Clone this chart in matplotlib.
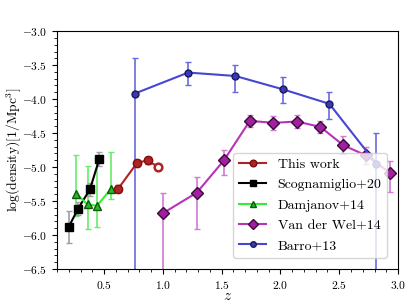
import matplotlib
matplotlib.use('Agg')
import matplotlib.pyplot as plt
from matplotlib.ticker import MultipleLocator

plt.rcParams['font.family'] = 'serif'
plt.rcParams['font.serif'] = ['cmr10', 'DejaVu Serif']
plt.rcParams['mathtext.fontset'] = 'cm'
plt.rcParams['axes.formatter.use_mathtext'] = True
plt.rcParams['font.size'] = 10

# This work
z_tw = [0.62, 0.78, 0.87, 0.96]
d_tw = [-5.32, -4.94, -4.90, -5.00]
e_tw = [0.05, 0.04, 0.05, 0.0]

# Scognamiglio+20
z_sc = [0.20, 0.28, 0.38, 0.46]
d_sc = [-5.88, -5.61, -5.33, -4.88]
e_sc = [0.24, 0.09, 0.10, 0.10]

# Damjanov+14
z_dj = [0.26, 0.36, 0.44, 0.56]
d_dj = [-5.39, -5.55, -5.57, -5.32]
eup_dj = [0.57, 0.56, 0.70, 0.54]
elo_dj = [0.33, 0.36, 0.31, 0.15]

# Van der Wel+14
z_vw = [1.0, 1.29, 1.52, 1.74, 1.94, 2.14, 2.34, 2.535, 2.73, 2.93]
d_vw = [-5.68, -5.375, -4.90, -4.32, -4.35, -4.33, -4.41, -4.68, -4.83, -5.085]
eup_vw = [0.30, 0.23, 0.15, 0.09, 0.10, 0.09, 0.09, 0.13, 0.12, 0.18]
elo_vw = [1.5, 0.54, 0.22, 0.09, 0.10, 0.09, 0.09, 0.13, 0.12, 0.28]

# Barro+13
z_ba = [0.76, 1.215, 1.616, 2.018, 2.416, 2.815]
d_ba = [-3.92, -3.61, -3.66, -3.855, -4.07, -4.95]
eup_ba = [0.52, 0.16, 0.16, 0.18, 0.18, 0.45]
elo_ba = [3.0, 0.19, 0.24, 0.21, 0.23, 3.0]

fig = plt.figure(figsize=(4.07, 3.05), dpi=100)
ax = fig.add_axes([0.140, 0.118, 0.838, 0.780])

# error bars (drawn separately so the legend shows only line+marker)
ax.errorbar(z_ba, d_ba, yerr=[elo_ba, eup_ba], fmt='none', ecolor='#6a6ae0', elinewidth=1.2, capsize=2.5, zorder=1)
ax.errorbar(z_vw, d_vw, yerr=[elo_vw, eup_vw], fmt='none', ecolor='#d27ad6', elinewidth=1.2, capsize=2.5, zorder=1)
ax.errorbar(z_dj, d_dj, yerr=[elo_dj, eup_dj], fmt='none', ecolor='#66ee66', elinewidth=1.2, capsize=2.5, zorder=1)
ax.errorbar(z_sc, d_sc, yerr=e_sc, fmt='none', ecolor='#a0a0a0', elinewidth=1.2, capsize=2.5, zorder=1)
ax.errorbar(z_tw[:3], d_tw[:3], yerr=e_tw[:3], fmt='none', ecolor='#b22222', elinewidth=1.2, capsize=2.5, zorder=1)

ax.plot(z_tw, d_tw, '-', color='#b22222', lw=1.5, zorder=3)
ax.plot(z_tw[:3], d_tw[:3], 'o', color='#b22222', mec='#7a1010', ms=6, zorder=4)
ax.plot(z_tw[3:], d_tw[3:], 'o', mfc='white', mec='#b22222', mew=1.8, ms=5.5, zorder=4)
ax.plot([], [], 'o-', color='#b22222', mec='#7a1010', ms=6, lw=1.5, label='This work')

ax.plot(z_sc, d_sc, 's-', color='black', ms=6, lw=1.5, zorder=3, label='Scognamiglio+20')
ax.plot(z_dj, d_dj, '^-', color='#33ee33', mfc='#22bb22', mec='#115511', ms=6, lw=1.5, zorder=3,
        label='Damjanov+14')
ax.plot(z_vw, d_vw, 'D-', color='#b833bb', mfc='#a020a0', mec='#3a0a3a', ms=6, lw=1.5, zorder=3,
        label='Van der Wel+14')
ax.plot(z_ba, d_ba, 'o-', color='#4646d0', mfc='#3a3ab0', mec='#1a1a60', ms=5, lw=1.5, zorder=3,
        label='Barro+13')

ax.set_xlim(0.1, 3.0)
ax.set_ylim(-6.5, -3.0)
ax.xaxis.set_major_locator(MultipleLocator(0.5))
ax.xaxis.set_minor_locator(MultipleLocator(0.1))
ax.yaxis.set_major_locator(MultipleLocator(0.5))
ax.yaxis.set_minor_locator(MultipleLocator(0.1))
ax.tick_params(labelsize=8.3)
ax.set_xlabel(r'$z$', fontsize=11, labelpad=-1)
ax.set_ylabel(r'$\log(\rm density) [1/\rm Mpc^3]$', fontsize=9.8)
ax.yaxis.set_label_coords(-0.098, 0.5)

leg = ax.legend(loc='lower right', fontsize=10, framealpha=0.8, markerscale=0.8,
                borderaxespad=0.8, labelspacing=0.55)
leg.set_zorder(10)

fig.savefig('out.png', dpi=100)
